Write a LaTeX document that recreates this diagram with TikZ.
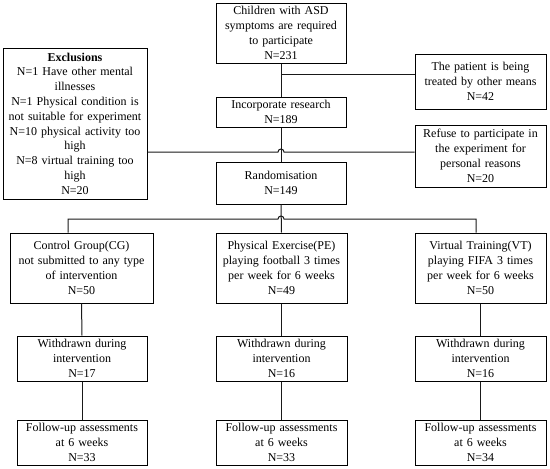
\documentclass[tikz,border=0pt]{standalone}
\usepackage{fontspec}
\setmainfont{Liberation Serif}
\begin{document}
\begin{tikzpicture}[x=1pt,y=-1pt,
  box/.style={draw=black, line width=1pt, inner sep=0pt, align=center,
    font=\fontsize{12}{14.8}\selectfont},
  conn/.style={draw=black!90, line width=1pt}]
\useasboundingbox (0,0) rectangle (550,469);
% nodes: name, center, width, height, text width, text
\newcommand{\bx}[6]{\node[box, minimum width=#3pt, minimum height=#4pt, text width=#5pt] (#1) at #2 {#6};}
\bx{top}{(281,33)}{130}{60}{126}{Children with ASD\\symptoms are required\\to participate\\N=231}
\bx{inc}{(281,112)}{130}{30}{126}{Incorporate research\\N=189}
\bx{ran}{(281,183)}{130}{42}{126}{Randomisation\\N=149}
\bx{r1}{(480.5,81.5)}{131}{55}{127}{The patient is being\\treated by other means\\N=42}
\bx{r2}{(480.5,156)}{131}{62}{127}{Refuse to participate in\\the experiment for\\personal reasons\\N=20}
\bx{exc}{(75,123.5)}{144}{151}{142}{\textbf{Exclusions}\\N=1 Have other mental\\illnesses\\N=1 Physical condition is\\not suitable for experiment\\N=10 physical activity too\\high\\N=8 virtual training too\\high\\N=20}
\bx{cg}{(81.5,268)}{143}{70}{140}{Control Group(CG)\\not submitted to any type\\of intervention\\N=50}
\bx{pe}{(281.5,268)}{131}{70}{128}{Physical Exercise(PE)\\playing football 3 times\\per week for 6 weeks\\N=49}
\bx{vt}{(480.5,268)}{131}{70}{128}{Virtual Training(VT)\\playing FIFA 3 times\\per week for 6 weeks\\N=50}
\bx{wcg}{(82,358.5)}{130}{45}{126}{Withdrawn during\\intervention\\N=17}
\bx{wpe}{(281.5,358.5)}{131}{45}{127}{Withdrawn during\\intervention\\N=16}
\bx{wvt}{(480.5,358.5)}{131}{45}{127}{Withdrawn during\\intervention\\N=16}
\bx{fcg}{(82,442.5)}{130}{45}{126}{Follow-up assessments\\at 6 weeks\\N=33}
\bx{fpe}{(281.5,442.5)}{131}{45}{127}{Follow-up assessments\\at 6 weeks\\N=33}
\bx{fvt}{(480.5,442.5)}{131}{45}{127}{Follow-up assessments\\at 6 weeks\\N=34}
% coordinates
\coordinate (h0) at (281,74);
\coordinate (h1) at (281,152);
\coordinate (h2) at (281,219);
\coordinate (d1) at (68,219);
\coordinate (d3) at (476,219);
% main vertical
\draw[conn] (top.south) -- (inc.north);
\draw[conn] (inc.south) -- (ran.north);
\draw[conn] (ran.south) -- (pe.north);
\draw[conn] (h0) -- (r1.west |- h0);
\draw[conn] (exc.east |- h1) -- ([xshift=-3pt]h1) arc[start angle=180, end angle=0, radius=3pt] -- (r2.west |- h1);
\draw[conn] (cg.north -| d1) -- (d1) -- ([xshift=-3pt]h2) arc[start angle=180, end angle=0, radius=3pt] -- (d3) -- (vt.north -| d3);
% lower verticals
\draw[conn] (cg.south) -- (wcg.north);
\draw[conn] (wcg.south) -- (fcg.north);
\draw[conn] (pe.south) -- (wpe.north);
\draw[conn] (wpe.south) -- (fpe.north);
\draw[conn] (vt.south) -- (wvt.north);
\draw[conn] (wvt.south) -- (fvt.north);
\end{tikzpicture}
\end{document}
